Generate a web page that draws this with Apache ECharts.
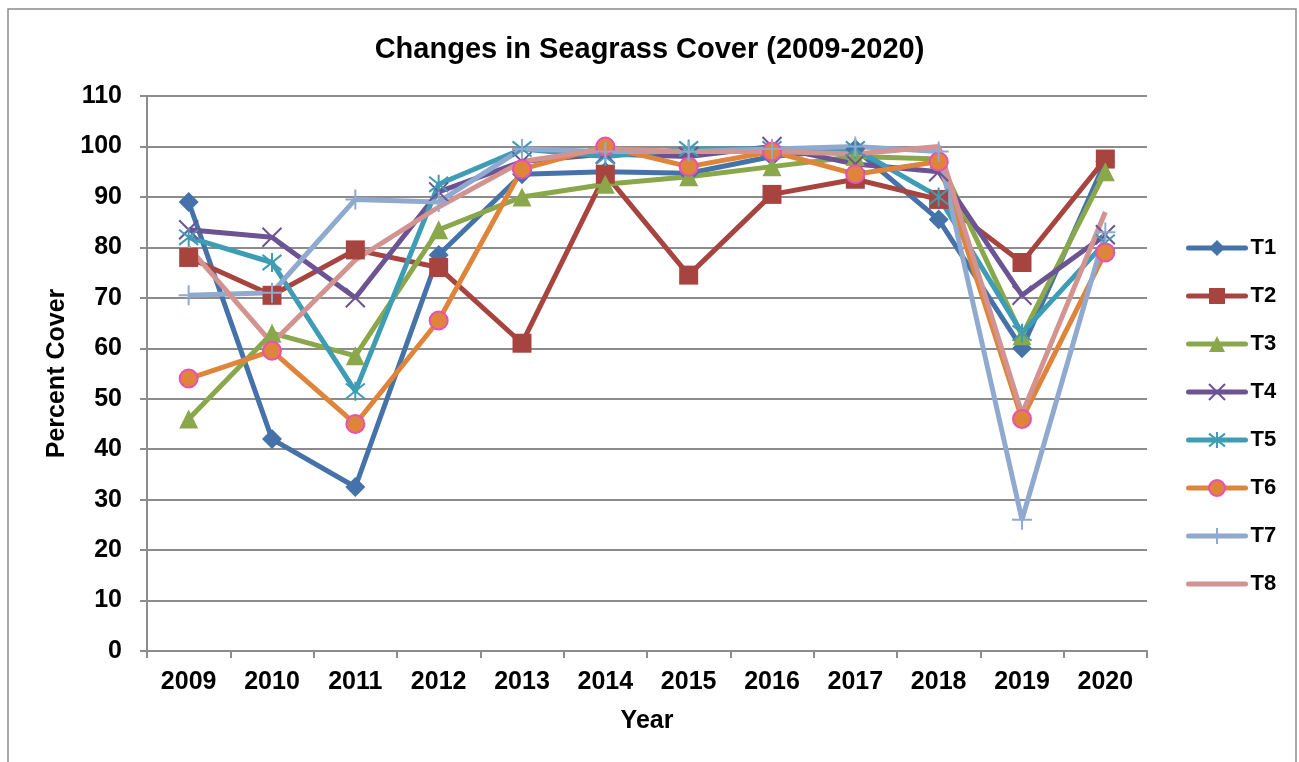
<!DOCTYPE html>
<html>
<head>
<meta charset="utf-8">
<script src="https://cdn.jsdelivr.net/npm/echarts@6/dist/echarts.min.js"></script>
<style>
  html, body { margin: 0; padding: 0; background: #fff; }
  #chart { width: 1299px; height: 762px; }
</style>
</head>
<body>
<div id="chart"></div>
<script>
var years = ['2009', '2010', '2011', '2012', '2013', '2014', '2015', '2016', '2017', '2018', '2019', '2020'];
var t1 = [89, 42, 32.5, 78.5, 94.5, 95, 94.7, 98, 99.5, 85.5, 60, 97];
var t2 = [78, 70.5, 79.5, 76, 61, 94.5, 74.5, 90.5, 93.5, 89.5, 77, 97.5];
var t3 = [46, 63, 58.5, 83.5, 90, 92.5, 94, 96, 98, 97.5, 62.5, 95];
var t4 = [83.5, 82, 70, 91, 97, 98.5, 98, 100, 96.5, 95, 70.5, 82.5];
var t5 = [82, 77, 51.5, 92.5, 99.5, 98, 99.5, 99.5, 99.5, 90, 63, 81];
var t6 = [54, 59.5, 45, 65.5, 95.5, 100, 96, 99, 94.5, 97, 46, 79];
var t7 = [70.5, 71, 89.5, 89, 99.5, 99, 99, 99.5, 100, 99, 26, 83];
var t8 = [80, 61, 77.5, 88, 97, 99.5, 99, 99, 98.5, 100, 47, 87];

var font = 'Liberation Sans, Arial, sans-serif';
var gridColor = '#8c8c8c';

// custom stroke-only markers
var xMark = 'path://M0,0L10,10M10,0L0,10';
var starMark = 'path://M5,0L5,10M1,1L9,9M9,1L1,9';
var plusMark = 'path://M5,0L5,10M0,5L10,5';

function mk(name, data, color, symbol, size, extra) {
  var s = {
    name: name,
    type: 'line',
    data: data,
    symbol: symbol,
    symbolSize: size,
    showAllSymbol: true,
    lineStyle: { width: 5, color: color },
    itemStyle: { color: color },
    emphasis: { disabled: true }
  };
  if (extra) s.itemStyle = Object.assign(s.itemStyle, extra);
  return s;
}

var chart = echarts.init(document.getElementById('chart'));
chart.setOption({
  animation: false,
  backgroundColor: '#fff',
  graphic: [{
    type: 'rect',
    shape: { x: 8, y: 9, width: 1288, height: 800 },
    style: { fill: 'none', stroke: '#8c8c8c', lineWidth: 1.5 },
    silent: true
  }],
  title: {
    text: 'Changes in Seagrass Cover (2009-2020)',
    left: 'center',
    top: 30,
    textStyle: { fontFamily: font, fontWeight: 'bold', fontSize: 29, color: '#000' }
  },
  legend: {
    orient: 'vertical',
    left: 1186,
    top: 237,
    padding: 0,
    itemWidth: 57,
    itemHeight: 20,
    itemGap: 26,
    lineStyle: { width: 5, cap: 'round' },
    textStyle: { fontFamily: font, fontWeight: 'bold', fontSize: 22, color: '#000' },
    data: ['T1', 'T2', 'T3', 'T4', 'T5', 'T6', 'T7', 'T8']
  },
  grid: { left: 147, right: 152, top: 96, bottom: 111 },
  xAxis: {
    type: 'category',
    data: years,
    name: 'Year',
    nameLocation: 'middle',
    nameGap: 58,
    nameTextStyle: { fontFamily: font, fontWeight: 'bold', fontSize: 25, color: '#000' },
    axisLine: { lineStyle: { color: gridColor, width: 2 } },
    axisTick: { show: true, length: 7, lineStyle: { color: gridColor, width: 2 } },
    axisLabel: { fontFamily: font, fontWeight: 'bold', fontSize: 25, color: '#000', margin: 19 }
  },
  yAxis: {
    type: 'value',
    min: 0,
    max: 110,
    interval: 10,
    name: 'Percent Cover',
    nameLocation: 'middle',
    nameGap: 72,
    nameTextStyle: { fontFamily: font, fontWeight: 'bold', fontSize: 25, color: '#000' },
    axisLine: { show: true, lineStyle: { color: gridColor, width: 2 } },
    axisTick: { show: true, length: 7, lineStyle: { color: gridColor, width: 2 } },
    axisLabel: { fontFamily: font, fontWeight: 'bold', fontSize: 25, color: '#000', margin: 25 },
    splitLine: { lineStyle: { color: gridColor, width: 2 } }
  },
  series: [
    mk('T1', t1, '#4573a9', 'diamond', 20),
    mk('T2', t2, '#a8443f', 'rect', 19),
    mk('T3', t3, '#8aa84b', 'triangle', 19),
    mk('T4', t4, '#6c5393', xMark, 19, { borderColor: '#6c5393', borderWidth: 2 }),
    mk('T5', t5, '#3e9cb4', starMark, 19, { borderColor: '#3e9cb4', borderWidth: 2 }),
    mk('T6', t6, '#df853b', 'circle', 18, { borderColor: '#e84fb8', borderWidth: 2 }),
    mk('T7', t7, '#8faace', plusMark, 20, { borderColor: '#8faace', borderWidth: 2 }),
    mk('T8', t8, '#d39391', 'none', 0, { opacity: 0 })
  ]
});
</script>
</body>
</html>
